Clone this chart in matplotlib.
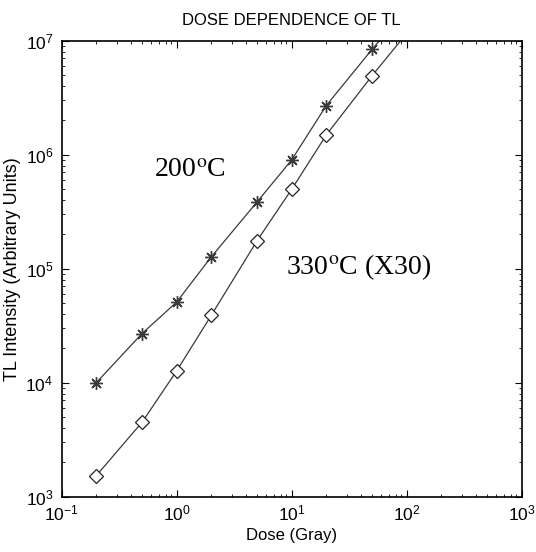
import matplotlib
matplotlib.use("Agg")
import matplotlib.pyplot as plt

# dose in Gray
dose = [0.2, 0.5, 1, 2, 5, 10, 20, 50, 100]
# TL intensity, 200 C peak (asterisks)
tl_200 = [1.0e4, 2.7e4, 5.1e4, 1.27e5, 3.85e5, 9.0e5, 2.7e6, 8.4e6, 1.9e7]
# TL intensity, 330 C peak x30 (diamonds)
tl_330 = [1.53e3, 4.5e3, 1.27e4, 3.9e4, 1.76e5, 4.97e5, 1.49e6, 4.93e6, 1.16e7]

plt.rcParams['font.family'] = ['Liberation Sans', 'DejaVu Sans']
plt.rcParams['mathtext.fontset'] = 'stix'

fig = plt.figure(figsize=(5.36, 5.52), dpi=100)
ax = fig.add_axes([0.1151, 0.1002, 0.8582, 0.8261])

line_col = '#3a3a3a'
ax.plot(dose, tl_200, color=line_col, lw=0.9, marker=(8, 2, 0), ms=9,
        mew=1.0, mec=line_col)
ax.plot(dose, tl_330, color=line_col, lw=0.9, marker='D', ms=7.5,
        mfc='white', mec='#222222', mew=0.9)

ax.set_xscale('log')
ax.set_yscale('log')
ax.set_xlim(0.1, 1000)
ax.set_ylim(1e3, 1e7)

ax.tick_params(which='both', direction='in', top=True, right=True, labelsize=12.5)
ax.tick_params(axis='x', which='major', pad=5)
ax.tick_params(axis='y', which='major', pad=6)
ax.tick_params(which='major', length=5, width=0.8)
ax.tick_params(which='minor', length=2.5, width=0.6)
for s in ax.spines.values():
    s.set_linewidth(1.2)

ax.set_title('DOSE DEPENDENCE OF TL', fontsize=12, pad=11)
ax.set_xlabel('Dose (Gray)', fontsize=12, labelpad=3)
ax.set_ylabel('TL Intensity (Arbitrary Units)', fontsize=13, labelpad=3)

ax.text(1.31, 7.3e5, '200$^{\\rm o}$C', fontsize=20, family='Liberation Serif',
        ha='center', va='center')
ax.text(38.5, 1.03e5, '330$^{\\rm o}$C (X30)', fontsize=20, family='Liberation Serif',
        ha='center', va='center')

fig.savefig('out.png', dpi=100)
